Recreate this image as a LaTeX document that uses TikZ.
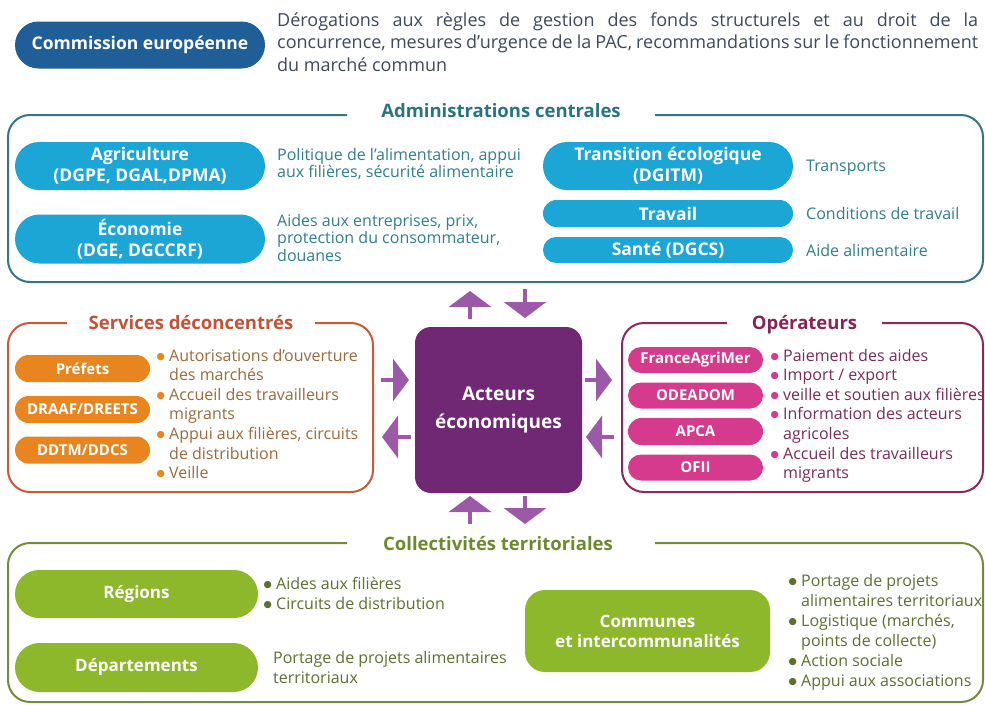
\documentclass[tikz,border=0pt]{standalone}
\usepackage{fontspec}
\setmainfont{Open Sans}
\newfontfamily\dejavu{DejaVu Sans}
\usetikzlibrary{shapes.misc,arrows.meta}
\definecolor{eublue}{RGB}{31,94,150}
\definecolor{slate}{RGB}{62,74,92}
\definecolor{tealframe}{RGB}{52,118,134}
\definecolor{tealtitle}{RGB}{40,116,130}
\definecolor{tealtxt}{RGB}{47,128,140}
\definecolor{cyanbox}{RGB}{27,166,213}
\definecolor{orangeframe}{RGB}{200,90,60}
\definecolor{orangetitle}{RGB}{196,82,56}
\definecolor{orangebox}{RGB}{233,133,31}
\definecolor{orangetxt}{RGB}{156,106,60}
\definecolor{magframe}{RGB}{140,40,90}
\definecolor{magtitle}{RGB}{138,34,86}
\definecolor{magtxt}{RGB}{125,43,88}
\definecolor{pinkbox}{RGB}{214,58,140}
\definecolor{acteur}{RGB}{112,39,116}
\definecolor{arrowpurple}{RGB}{155,89,168}
\definecolor{greenframe}{RGB}{118,138,60}
\definecolor{greentitle}{RGB}{108,138,44}
\definecolor{greenbox}{RGB}{141,184,43}
\definecolor{greentxt}{RGB}{94,112,48}
\newcommand{\itm}[1]{\makebox[13pt][l]{\hspace{0.5pt}\raisebox{2pt}{\textcolor{#1}{\dejavu\fontsize{9.5}{10}\selectfont ●}}}}
\newcommand{\cnt}{\hspace*{13pt}}
\begin{document}
\begin{tikzpicture}[x=1pt,y=-1pt,
  frame/.style={line width=2pt, rounded corners=22pt},
  ttl/.style={anchor=base, inner sep=0, font=\bfseries\fontsize{18.5}{20}\selectfont},
  pill/.style={rounded rectangle, inner sep=0, text=white, align=center, font=\bfseries\fontsize{17.5}{21}\selectfont},
  spill/.style={pill, font=\bfseries\fontsize{15}{17}\selectfont},
  txt/.style={anchor=base west, inner sep=0, align=left, font=\fontsize{16}{17.8}\selectfont},
  lst/.style={anchor=base west, inner sep=0, align=left, font=\fontsize{16}{19.6}\selectfont},
  barrow/.style={draw=arrowpurple, line width=4pt, -{Triangle[width=42pt,length=16pt]}},
]
\useasboundingbox[fill=white] (0,0) rectangle (985,704);

% Commission européenne
\node[pill, fill=eublue, minimum width=250pt, minimum height=47pt] (eu) at (140,45) {Commission européenne};
\node[txt, text=slate, font=\fontsize{18}{22.5}\selectfont] (eudesc) at (277,26) {\parbox[t]{701pt}{\makebox[701pt][s]{Dérogations aux règles de gestion des fonds structurels et au droit de la}\\\makebox[701pt][s]{concurrence, mesures d’urgence de la PAC, recommandations sur le fonctionnement}\\du marché commun}};

% Administrations centrales
\draw[frame, draw=tealframe] (347,115) -- (8,115) -- (8,282) -- (983,282) -- (983,115) -- (655,115);
\node[ttl, text=tealtitle] (ac) at (501,117) {Administrations centrales};
\node[pill, fill=cyanbox, minimum width=250pt, minimum height=48pt] (agri) at (140,166) {Agriculture\\(DGPE, DGAL,DPMA)};
\node[pill, fill=cyanbox, minimum width=250pt, minimum height=49pt] (eco) at (140,239) {Économie\\(DGE, DGCCRF)};
\node[pill, fill=cyanbox, minimum width=250pt, minimum height=48pt] (trans) at (668,166) {Transition écologique\\(DGITM)};
\node[pill, fill=cyanbox, minimum width=250pt, minimum height=27pt] (trav) at (668,213.5) {Travail};
\node[pill, fill=cyanbox, minimum width=250pt, minimum height=26pt] (sante) at (668,250) {Santé (DGCS)};
\node[txt, text=tealtxt] (agrid) at (277,160) {\parbox[t]{300pt}{Politique de l’alimentation, appui\\aux filières, sécurité alimentaire}};
\node[txt, text=tealtxt] (ecod) at (277,226) {\parbox[t]{300pt}{Aides aux entreprises, prix,\\protection du consommateur,\\douanes}};
\node[txt, text=tealtxt] (transd) at (806,171) {Transports};
\node[txt, text=tealtxt] (travd) at (806,219) {Conditions de travail};
\node[txt, text=tealtxt] (santed) at (806,256) {Aide alimentaire};

% Services déconcentrés
\draw[frame, draw=orangeframe] (67,323) -- (8,323) -- (8,492) -- (373,492) -- (373,323) -- (315,323);
\node[ttl, text=orangetitle] (sd) at (191,329) {Services déconcentrés};
\node[spill, fill=orangebox, minimum width=135pt, minimum height=27pt] (pref) at (82.5,368.5) {Préfets};
\node[spill, fill=orangebox, minimum width=135pt, minimum height=27pt] (draaf) at (82.5,409.5) {DRAAF/DREETS};
\node[spill, fill=orangebox, minimum width=135pt, minimum height=27pt] (ddtm) at (82.5,450) {DDTM/DDCS};
\node[lst, text=orangetxt] (sdl) at (156,361) {\parbox[t]{230pt}{\itm{orangebox}Autorisations d’ouverture\\\cnt des marchés\\\itm{orangebox}Accueil des travailleurs\\\cnt migrants\\\itm{orangebox}Appui aux filières, circuits\\\cnt de distribution\\\itm{orangebox}Veille}};

% Opérateurs
\draw[frame, draw=magframe] (727,323) -- (622,323) -- (622,492) -- (983,492) -- (983,323) -- (882,323);
\node[ttl, text=magtitle] (op) at (804.5,329) {Opérateurs};
\node[spill, fill=pinkbox, minimum width=135pt, minimum height=26pt] (fam) at (695.5,360) {FranceAgriMer};
\node[spill, fill=pinkbox, minimum width=135pt, minimum height=26pt] (odea) at (695.5,395.5) {ODEADOM};
\node[spill, fill=pinkbox, minimum width=135pt, minimum height=27pt] (apca) at (695.5,431.5) {APCA};
\node[spill, fill=pinkbox, minimum width=135pt, minimum height=26pt] (ofii) at (695.5,467.5) {OFII};
\node[lst, text=magtxt] (opl) at (770,361) {\parbox[t]{230pt}{\itm{pinkbox}Paiement des aides\\\itm{pinkbox}Import / export\\\itm{pinkbox}veille et soutien aux filières\\\itm{pinkbox}Information des acteurs\\\cnt agricoles\\\itm{pinkbox}Accueil des travailleurs\\\cnt migrants}};

% Acteurs économiques
\node[rectangle, rounded corners=16pt, fill=acteur, minimum width=167pt, minimum height=166pt, inner sep=0, text=white, align=center, font=\bfseries\fontsize{19}{28}\selectfont] (act) at (498.5,410) {Acteurs\\économiques};

% arrows
\coordinate (tu1) at (470,319); \coordinate (tu2) at (470,291);
\coordinate (td1) at (525,289); \coordinate (td2) at (525,318);
\coordinate (bu1) at (470,524); \coordinate (bu2) at (470,496);
\coordinate (bd1) at (525,496); \coordinate (bd2) at (525,524);
\coordinate (lr1) at (381,380); \coordinate (lr2) at (409,380);
\coordinate (ll1) at (411,437); \coordinate (ll2) at (382,437);
\coordinate (rr1) at (585,380); \coordinate (rr2) at (612,380);
\coordinate (rl1) at (614,437); \coordinate (rl2) at (586,437);
\draw[barrow] (tu1) -- (tu2);
\draw[barrow] (td1) -- (td2);
\draw[barrow] (bu1) -- (bu2);
\draw[barrow] (bd1) -- (bd2);
\draw[barrow] (lr1) -- (lr2);
\draw[barrow] (ll1) -- (ll2);
\draw[barrow] (rr1) -- (rr2);
\draw[barrow] (rl1) -- (rl2);

% Collectivités territoriales
\draw[frame, draw=greenframe] (347,543) -- (8,543) -- (8,702) -- (983,702) -- (983,543) -- (655,543);
\node[ttl, text=greentitle] (ct) at (498,550) {Collectivités territoriales};
\node[pill, fill=greenbox, minimum width=243pt, minimum height=48pt, font=\bfseries\fontsize{17}{20}\selectfont] (reg) at (136.5,594) {Régions};
\node[pill, fill=greenbox, minimum width=243pt, minimum height=49pt, font=\bfseries\fontsize{17}{20}\selectfont] (dep) at (136.5,667.5) {Départements};
\node[rectangle, rounded corners=20pt, fill=greenbox, minimum width=245pt, minimum height=82pt, inner sep=0, text=white, align=center, font=\bfseries\fontsize{17}{20}\selectfont] (com) at (647.5,631) {Communes\\et intercommunalités};
\node[lst, text=greentxt, font=\fontsize{16}{20}\selectfont] (regd) at (263,589) {\parbox[t]{250pt}{\itm{greentxt}Aides aux filières\\\itm{greentxt}Circuits de distribution}};
\node[txt, text=greentxt, font=\fontsize{16}{20}\selectfont] (depd) at (273,663) {\parbox[t]{250pt}{Portage de projets alimentaires\\territoriaux}};
\node[lst, text=greentxt, font=\fontsize{16}{20}\selectfont] (comd) at (788,586) {\parbox[t]{200pt}{\itm{greentxt}Portage de projets\\\cnt alimentaires territoriaux\\\itm{greentxt}Logistique (marchés,\\\cnt points de collecte)\\\itm{greentxt}Action sociale\\\itm{greentxt}Appui aux associations}};
\end{tikzpicture}
\end{document}
